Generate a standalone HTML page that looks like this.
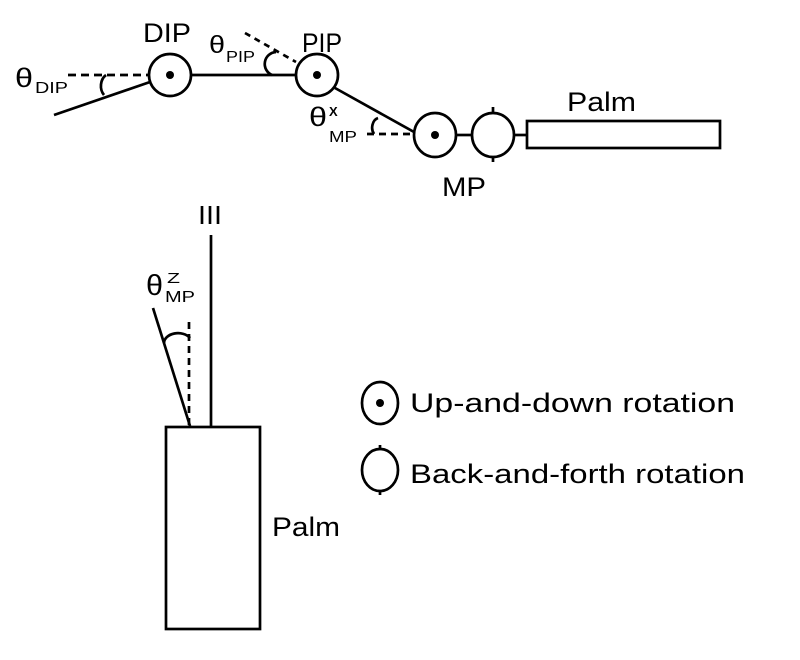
<!DOCTYPE html>
<html><head><meta charset="utf-8"><style>
html,body{margin:0;padding:0;background:#fff;}
svg{display:block}
text{font-family:"Liberation Sans",sans-serif;fill:#000;}
</style></head><body>
<svg width="800" height="660" viewBox="0 0 800 660" xmlns="http://www.w3.org/2000/svg">
<g stroke="#000" fill="none" stroke-width="2.7">
<line x1="54" y1="115" x2="150" y2="82"/>
<line x1="68" y1="75" x2="148" y2="75" stroke-dasharray="8,5"/>
<path d="M106 75 A11 13 0 0 0 104 95"/>
<ellipse cx="170" cy="75" rx="21" ry="21"/>
<line x1="191" y1="75" x2="296" y2="75"/>
<line x1="245" y1="33" x2="296" y2="62" stroke-dasharray="6,5"/>
<path d="M276 52 A12 12 0 0 0 272 75"/>
<ellipse cx="317" cy="75" rx="21" ry="21"/>
<line x1="335" y1="88" x2="414" y2="132"/>
<line x1="367" y1="134" x2="413" y2="134" stroke-dasharray="7,5"/>
<path d="M378 118 A8 10 0 0 0 374 134"/>
<ellipse cx="435" cy="135" rx="21" ry="22"/>
<line x1="456" y1="135" x2="472" y2="135"/>
<ellipse cx="493" cy="135" rx="21" ry="22"/>
<line x1="493" y1="107" x2="493" y2="113"/>
<line x1="493" y1="157" x2="493" y2="162"/>
<line x1="514" y1="135" x2="527" y2="135"/>
<rect x="527" y="121" width="193" height="27"/>
<line x1="211" y1="235" x2="211" y2="427"/>
<line x1="153" y1="308" x2="190" y2="426"/>
<line x1="189" y1="322" x2="189" y2="425" stroke-dasharray="7,5"/>
<path d="M164 343 A14 10 0 0 1 190 338"/>
<rect x="166" y="427" width="94" height="202"/>
<ellipse cx="380" cy="403" rx="18" ry="21"/>
<ellipse cx="380" cy="470" rx="18" ry="21"/>
<line x1="380" y1="445" x2="380" y2="449"/>
<line x1="380" y1="491" x2="380" y2="495"/>
</g>
<g fill="#000">
<circle cx="170" cy="75" r="4"/>
<circle cx="317" cy="75" r="4"/>
<circle cx="435" cy="135" r="4"/>
<circle cx="380" cy="403" r="4"/>
</g>
<text x="143" y="42" font-size="27" textLength="48" lengthAdjust="spacingAndGlyphs">DIP</text>
<text x="302" y="52" font-size="27" textLength="40" lengthAdjust="spacingAndGlyphs">PIP</text>
<text x="442" y="196" font-size="27" textLength="44" lengthAdjust="spacingAndGlyphs">MP</text>
<text x="567" y="111" font-size="27" textLength="69" lengthAdjust="spacingAndGlyphs">Palm</text>
<text x="198" y="224" font-size="26" textLength="24" lengthAdjust="spacingAndGlyphs">III</text>
<text x="272" y="536" font-size="27" textLength="68" lengthAdjust="spacingAndGlyphs">Palm</text>
<text x="410" y="412" font-size="27" textLength="325" lengthAdjust="spacingAndGlyphs">Up-and-down rotation</text>
<text x="410" y="483" font-size="27" textLength="335" lengthAdjust="spacingAndGlyphs">Back-and-forth rotation</text>
<text x="15" y="87" font-size="27" textLength="18" lengthAdjust="spacingAndGlyphs">θ</text><text x="35" y="93" font-size="16" textLength="33" lengthAdjust="spacingAndGlyphs">DIP</text>
<text x="209" y="53" font-size="25" textLength="16" lengthAdjust="spacingAndGlyphs">θ</text><text x="226" y="62" font-size="16" textLength="29" lengthAdjust="spacingAndGlyphs">PIP</text>
<text x="309" y="126" font-size="27" textLength="18" lengthAdjust="spacingAndGlyphs">θ</text><text x="329" y="142" font-size="16" textLength="28" lengthAdjust="spacingAndGlyphs">MP</text><text x="329" y="116" font-size="13" font-weight="bold">X</text>
<text x="146" y="295" font-size="29" textLength="17" lengthAdjust="spacingAndGlyphs">θ</text><text x="165" y="302" font-size="16" textLength="30" lengthAdjust="spacingAndGlyphs">MP</text><text x="167" y="283" font-size="15" textLength="13" lengthAdjust="spacingAndGlyphs">Z</text>
</svg>
</body></html>
